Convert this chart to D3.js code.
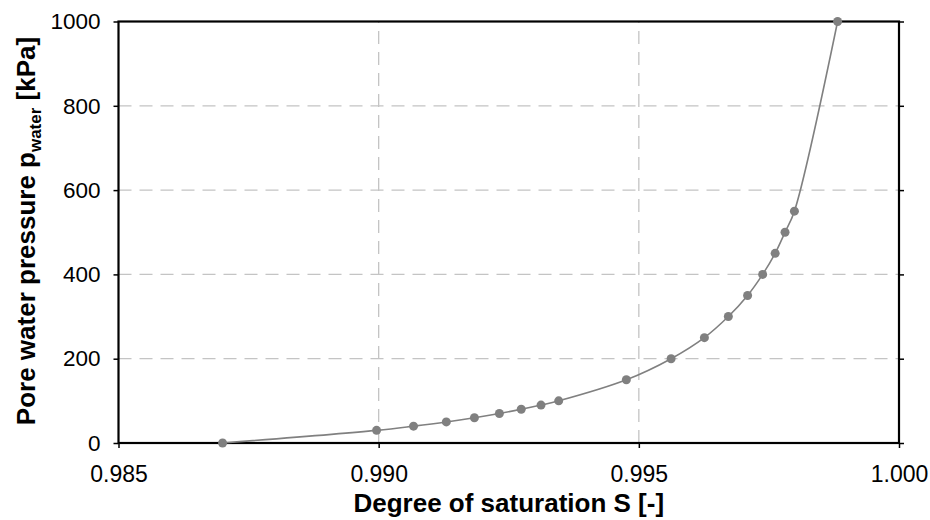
<!DOCTYPE html>
<html>
<head>
<meta charset="utf-8">
<script src="https://cdn.jsdelivr.net/npm/d3@7"></script>
<style>
    body { margin: 0; background: #fff; }
    svg { display: block; font-family: Arial, "Liberation Sans", sans-serif; }
</style>
</head>
<body>
<div id="chart"></div>
<script>
// saturation S [-] and pore water pressure [kPa]
const saturation = [0.98700, 0.98996, 0.99067, 0.99130, 0.99184, 0.99232, 0.99274, 0.99312, 0.99346,
    0.99476, 0.99562, 0.99626, 0.99672, 0.99709, 0.99738, 0.99762, 0.99781, 0.99799, 0.99882];
const pressure = [0, 30, 40, 50, 60, 70, 80, 90, 100,
    150, 200, 250, 300, 350, 400, 450, 500, 550, 1000];
const xTicks = [0.985, 0.990, 0.995, 1.000];
const yTicks = [0, 200, 400, 600, 800, 1000];

const width = 930, height = 520;
const margin = {top: 21.5, right: 31, bottom: 77, left: 118.5};

const svg = d3.select("#chart")
    .append("svg")
    .attr("width", width)
    .attr("height", height);

const x = d3.scaleLinear().domain([0.985, 1.0]).range([margin.left, width - margin.right]);
const y = d3.scaleLinear().domain([0, 1000]).range([height - margin.bottom, margin.top]);

// dashed grid
svg.selectAll(".xGrid")
    .data(xTicks.slice(1, -1))
    .enter()
    .append("line")
    .attr("x1", d => x(d)).attr("x2", d => x(d))
    .attr("y1", y(0)).attr("y2", y(1000))
    .attr("stroke", "#c4c4c4")
    .attr("stroke-width", 1.3)
    .attr("stroke-dasharray", "13,8");

svg.selectAll(".yGrid")
    .data(yTicks.slice(1, -1))
    .enter()
    .append("line")
    .attr("x1", x(0.985)).attr("x2", x(1.0))
    .attr("y1", d => y(d)).attr("y2", d => y(d))
    .attr("stroke", "#c4c4c4")
    .attr("stroke-width", 1.3)
    .attr("stroke-dasharray", "13,8");

// axes
const bottom = svg.append("g")
    .attr("transform", `translate(0,${y(0)})`)
    .call(d3.axisBottom(x).tickValues(xTicks).tickFormat(d3.format(".3f")).tickSize(5).tickPadding(18));
const left = svg.append("g")
    .attr("transform", `translate(${x(0.985)},0)`)
    .call(d3.axisLeft(y).tickValues(yTicks).tickFormat(d3.format("d")).tickSize(5).tickPadding(13));
const right = svg.append("g")
    .attr("transform", `translate(${x(1.0)},0)`)
    .call(d3.axisRight(y).tickValues(yTicks).tickFormat("").tickSize(5));

[bottom, left, right].forEach(g => {
    g.select(".domain").remove();
    g.selectAll(".tick line").attr("stroke", "#000").attr("stroke-width", 1.5);
    g.selectAll(".tick text").attr("font-size", 23).attr("fill", "#000");
});
left.selectAll(".tick text").attr("font-size", 22.5);

// frame
svg.append("rect")
    .attr("x", x(0.985))
    .attr("y", y(1000))
    .attr("width", x(1.0) - x(0.985))
    .attr("height", y(0) - y(1000))
    .attr("fill", "none")
    .attr("stroke", "#000")
    .attr("stroke-width", 2.2);

// curve
const points = saturation.map((s, i) => [s, pressure[i]]);
svg.append("path")
    .datum(points)
    .attr("fill", "none")
    .attr("stroke", "#808080")
    .attr("stroke-width", 1.6)
    .attr("d", d3.line().x(d => x(d[0])).y(d => y(d[1])).curve(d3.curveCatmullRom.alpha(0.5)));

svg.selectAll(".pt")
    .data(points)
    .enter()
    .append("circle")
    .attr("cx", d => x(d[0]))
    .attr("cy", d => y(d[1]))
    .attr("r", 4.5)
    .attr("fill", "#808080");

// axis titles
svg.append("text")
    .attr("x", (x(0.985) + x(1.0)) / 2)
    .attr("y", 512)
    .attr("text-anchor", "middle")
    .attr("font-size", 26)
    .attr("font-weight", "bold")
    .text("Degree of saturation S [-]");

const yt = svg.append("text")
    .attr("transform", `translate(35,231) rotate(-90)`)
    .attr("text-anchor", "middle")
    .attr("font-size", 26)
    .attr("font-weight", "bold");
yt.append("tspan").text("Pore water pressure p");
yt.append("tspan").attr("font-size", 17).attr("dy", 6).text("water");
yt.append("tspan").attr("dy", -6).text(" [kPa]");
</script>
</body>
</html>
